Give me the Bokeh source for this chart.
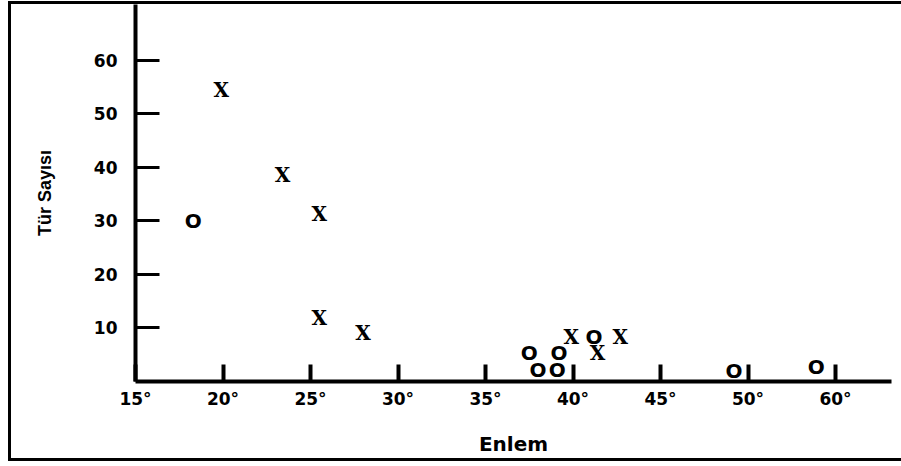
from bokeh.plotting import figure
from bokeh.models import FixedTicker, Range1d, ColumnDataSource
from bokeh.core.properties import value
from bokeh.embed import file_html
from bokeh.resources import INLINE

# ---- data (latitude in degrees, number of species) ----
x_lat = [19.9, 23.4, 25.5, 25.5, 28.0, 39.9, 42.7, 41.4]
x_count = [54.5, 38.5, 31.2, 11.8, 9.0, 8.4, 8.4, 5.3]

o_lat = [18.3, 37.5, 39.2, 38.0, 39.1, 41.2, 49.2, 57.8]
o_count = [30.0, 5.3, 5.3, 2.1, 2.1, 8.4, 1.9, 2.7]

x_tick_lat = [15, 20, 25, 30, 35, 40, 45, 50, 60]
y_ticks = [10, 20, 30, 40, 50, 60]


def axis_pos(lat):
    # the original axis is compressed after 50° (50° -> 60° drawn as one step)
    return lat if lat <= 50 else 50 + (lat - 50) / 2


src_x = ColumnDataSource(dict(x=[axis_pos(v) for v in x_lat], y=x_count, t=["X"] * len(x_lat)))
src_o = ColumnDataSource(dict(x=[axis_pos(v) for v in o_lat], y=o_count, t=["O"] * len(o_lat)))

p = figure(width=893, height=460, output_backend="svg", toolbar_location=None,
           x_range=Range1d(15, 58.2), y_range=Range1d(0, 70.4),
           min_border_left=124, min_border_right=13, min_border_top=0, min_border_bottom=83)

p.styles = {"margin-left": "8px", "margin-top": "1px",
            "border-top": "3px solid black", "border-left": "3px solid black",
            "border-bottom": "3px solid black", "border-right": "0px none"}

p.outline_line_color = None
p.grid.visible = False
p.background_fill_color = "white"
p.border_fill_color = "white"

# axes
tick_pos = [axis_pos(v) for v in x_tick_lat]
p.xaxis.ticker = FixedTicker(ticks=tick_pos)
p.xaxis.major_label_overrides = {pos: f"{lat}°" for pos, lat in zip(tick_pos, x_tick_lat)}
p.xaxis.minor_tick_line_color = None
p.xaxis.major_tick_in = 17
p.xaxis.major_tick_out = 0
p.xaxis.major_tick_line_width = 4
p.xaxis.axis_line_width = 4
p.xaxis.major_label_standoff = 7
p.xaxis.axis_label = "Enlem"
p.xaxis.axis_label_standoff = 20

p.yaxis.ticker = FixedTicker(ticks=y_ticks)
p.yaxis.minor_tick_line_color = None
p.yaxis.major_tick_in = 24
p.yaxis.major_tick_out = 0
p.yaxis.major_tick_line_width = 3
p.yaxis.axis_line_width = 4
p.yaxis.major_label_standoff = 18
p.yaxis.axis_label = "Tür Sayısı"
p.yaxis.axis_label_standoff = 36

for ax in (p.xaxis, p.yaxis):
    ax.axis_line_color = "black"
    ax.major_tick_line_color = "black"
    ax.major_label_text_font = "DejaVu Sans"
    ax.major_label_text_font_style = "bold"
    ax.major_label_text_font_size = "17px"
    ax.major_label_text_color = "black"
    ax.axis_label_text_color = "black"
    ax.axis_label_text_font_style = "bold"

p.xaxis.axis_label_text_font = "DejaVu Sans"
p.xaxis.axis_label_text_font_size = "20px"
p.yaxis.axis_label_text_font = "Liberation Sans"
p.yaxis.axis_label_text_font_size = "18px"

# markers
p.text(x="x", y="y", text="t", source=src_x, text_font=value("DejaVu Serif"),
       text_font_style="bold", text_font_size="20px", text_color="black",
       text_align="center", text_baseline="middle")
p.text(x="x", y="y", text="t", source=src_o, text_font=value("DejaVu Sans"),
       text_font_style="bold", text_font_size="20px", text_color="black",
       text_align="center", text_baseline="middle")

open("out.html", "w").write(file_html(p, INLINE))
